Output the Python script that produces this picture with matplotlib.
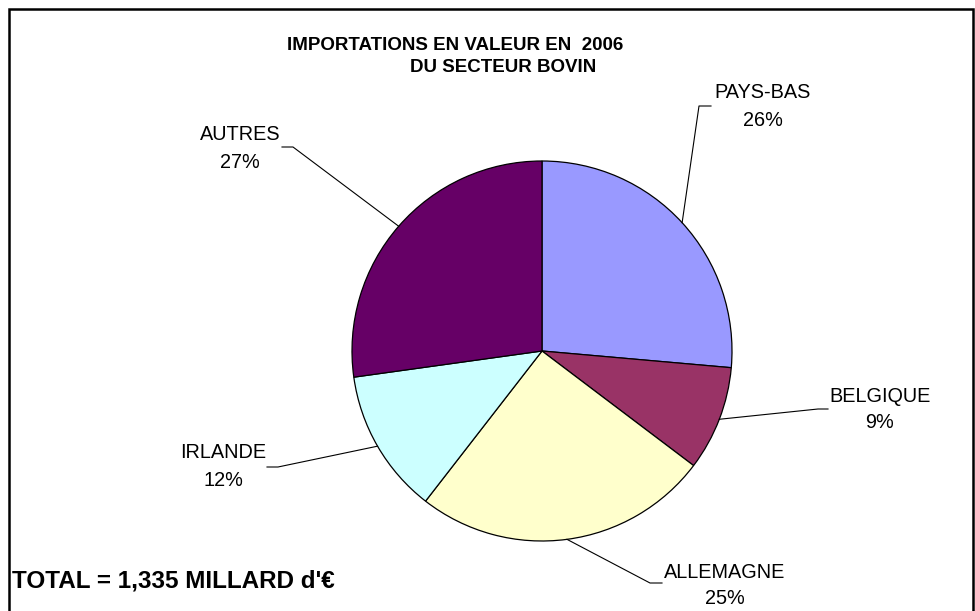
import numpy as np
import matplotlib
matplotlib.use("Agg")
import matplotlib.pyplot as plt

# ==========================================
# DATA
# ==========================================

countries = ["PAYS-BAS", "BELGIQUE", "ALLEMAGNE", "IRLANDE", "AUTRES"]
shares = [26.4, 8.9, 25.2, 12.3, 27.2]
slice_colors = ["#9999FF", "#993366", "#FFFFCC", "#CCFFFF", "#660066"]

title_line1 = "IMPORTATIONS EN VALEUR EN  2006"
title_line2 = "DU SECTEUR BOVIN"
total_text = "TOTAL = 1,335 MILLARD d'\u20ac"

# label layout in pixels: (name x, name y, pct y, elbow x, elbow y, end x)
label_layout = [
    (763, 93, 121, 699, 106, 711),
    (880, 397, 423, 818, 409, 828),
    (725, 572, 598, 650, 583, 662),
    (223, 453, 480, 278, 467, 267),
    (240, 135, 162, 293, 147, 282),
]

plt.rcParams["font.family"] = ["Liberation Sans", "DejaVu Sans"]

W, H = 975, 611
fig = plt.figure(figsize=(W / 100, H / 100), dpi=100)
fig.patch.set_facecolor("white")

# ==========================================
# PIE
# ==========================================

cx, cy, r = 542, 351, 190
ax = fig.add_axes([(cx - r) / W, (H - cy - r) / H, 2 * r / W, 2 * r / H])
wedges, _ = ax.pie(
    shares,
    colors=slice_colors,
    startangle=90,
    counterclock=False,
    radius=1,
    wedgeprops=dict(edgecolor="black", linewidth=0.9),
)
ax.set_xlim(-1, 1)
ax.set_ylim(-1, 1)
ax.set_aspect("auto")
ax.axis("off")

# overlay in pixel coords
ov = fig.add_axes([0, 0, 1, 1], zorder=5)
ov.set_xlim(0, W)
ov.set_ylim(H, 0)
ov.axis("off")
ov.patch.set_alpha(0)

fig.canvas.draw()
total = sum(shares)
for w, name, val, lay in zip(wedges, countries, shares, label_layout):
    mid = np.deg2rad((w.theta1 + w.theta2) / 2)
    dx, dy = ax.transData.transform((np.cos(mid), np.sin(mid)))
    nx, ny, py, ex, ey, endx = lay
    ov.plot([dx, ex, endx], [H - dy, ey, ey], color="black", lw=0.8)
    ov.text(nx, ny, name, ha="center", va="center", fontsize=14.3)
    ov.text(nx, py, f"{val / total * 100:.0f}%", ha="center", va="center",
            fontsize=14.3)

# ==========================================
# TEXTS AND FRAME
# ==========================================

ov.text(455, 45, title_line1, ha="center", va="center", fontsize=13.5,
        fontweight="bold")
ov.text(503, 67, title_line2, ha="center", va="center", fontsize=13.5,
        fontweight="bold")
ov.text(12, 581, total_text, ha="left", va="center", fontsize=17.5,
        fontweight="bold")

ov.plot([9, 9, 973, 973], [H + 5, 9, 9, H + 5], color="black", lw=1.8,
        solid_joinstyle="miter")

fig.savefig("out.png", dpi=100)
